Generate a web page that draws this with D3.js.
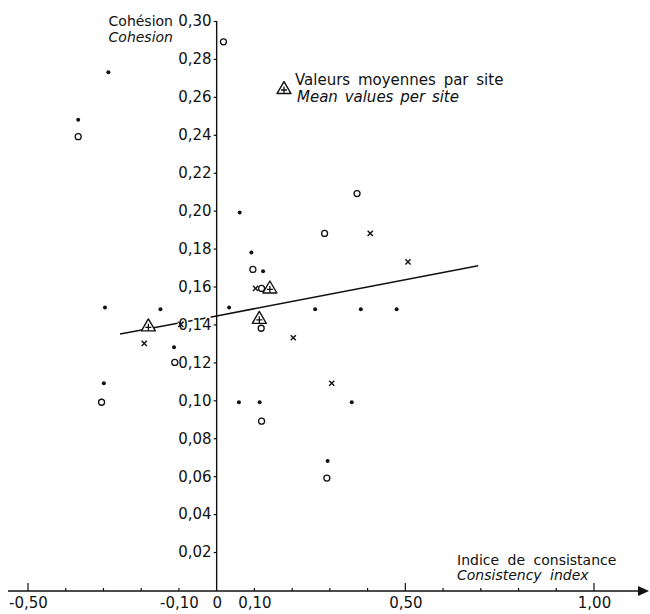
<!DOCTYPE html>
<html>
<head>
<meta charset="utf-8">
<script src="https://cdn.jsdelivr.net/npm/d3@7"></script>
<style>
  html, body { margin: 0; padding: 0; background: #fff; }
  svg { display: block; }
  text { font-family: "DejaVu Sans", sans-serif; fill: #111; }
</style>
</head>
<body>
<svg id="chart" width="650" height="614"></svg>
<script>
// Consistency index (x) vs cohesion (y), one symbol per group of observations
const solidPoints = [
  [-0.367, 0.248], [-0.287, 0.273], [-0.296, 0.149], [-0.299, 0.109],
  [-0.149, 0.148], [-0.113, 0.128], [0.033, 0.149], [0.061, 0.199],
  [0.092, 0.178], [0.123, 0.168], [0.059, 0.099], [0.114, 0.099],
  [0.261, 0.148], [0.294, 0.068], [0.358, 0.099], [0.382, 0.148],
  [0.477, 0.148]
];
const openPoints = [
  [-0.367, 0.239], [0.018, 0.289], [0.096, 0.169], [0.119, 0.159],
  [0.118, 0.138], [0.119, 0.089], [-0.111, 0.120], [-0.305, 0.099],
  [0.286, 0.188], [0.372, 0.209], [0.292, 0.059]
];
const crossPoints = [
  [0.103, 0.159], [-0.095, 0.140], [-0.192, 0.130], [0.203, 0.133],
  [0.305, 0.109], [0.407, 0.188], [0.507, 0.173]
];
// mean values per site
const meanPoints = [
  [-0.181, 0.139], [0.141, 0.159], [0.113, 0.143]
];
// fitted line
const trendLine = [[-0.256, 0.135], [0.0, 0.1445], [0.693, 0.171]];

const yTicks = [0.02, 0.04, 0.06, 0.08, 0.10, 0.12, 0.14, 0.16, 0.18, 0.20, 0.22, 0.24, 0.26, 0.28, 0.30];
const xMinorTicks = [-0.5, -0.4, -0.3, -0.2, -0.1, 0.1, 0.2, 0.3, 0.4, 0.5, 0.6, 0.7, 0.8, 0.9, 1.0];
const xMajorTicks = [-0.5, 0.5, 1.0];
const xLabelTicks = [-0.5, -0.1, 0, 0.1, 0.5, 1.0];

const svg = d3.select("#chart");
const ink = "#111";

const x = d3.scaleLinear().domain([-0.5, 1.0]).range([28, 594]);
const y = d3.scaleLinear().domain([0, 0.30]).range([590, 21]);
const axisY = 591;
const fmt = d => d.toFixed(2).replace(".", ",");

// x axis line with arrow
svg.append("line")
  .attr("x1", 8).attr("x2", 642).attr("y1", axisY).attr("y2", axisY)
  .attr("stroke", ink).attr("stroke-width", 1.3);
svg.append("path")
  .attr("d", `M638,${axisY - 5}L649,${axisY}L638,${axisY + 5}Z`)
  .attr("fill", ink);

// x ticks (point upward)
svg.append("g").selectAll("line").data(xMinorTicks).join("line")
  .attr("x1", d => x(d)).attr("x2", d => x(d))
  .attr("y1", axisY)
  .attr("y2", d => xMajorTicks.includes(d) ? axisY - 8 : axisY - 3)
  .attr("stroke", ink).attr("stroke-width", 1.2);

// x tick labels
const xAxis = d3.axisBottom(x).tickValues(xLabelTicks).tickSize(0).tickPadding(6)
  .tickFormat(d => d === 0 ? "0" : fmt(d));
const gx = svg.append("g").attr("transform", `translate(0,${axisY})`).call(xAxis);
gx.select(".domain").remove();
gx.selectAll("text").attr("font-size", 15).attr("font-family", "DejaVu Sans, sans-serif").attr("fill", ink);

// fitted line (drawn before axis labels so the labels sit over it)
const lineGen = d3.line().x(d => x(d[0])).y(d => y(d[1]));
svg.append("path").datum(trendLine)
  .attr("d", lineGen)
  .attr("fill", "none").attr("stroke", ink).attr("stroke-width", 1.6);

// y axis
svg.append("line")
  .attr("x1", x(0)).attr("x2", x(0)).attr("y1", y(0.30)).attr("y2", axisY)
  .attr("stroke", ink).attr("stroke-width", 1.4);
const yAxis = d3.axisLeft(y).tickValues(yTicks).tickSize(3).tickPadding(2).tickFormat(fmt);
const gy = svg.append("g").attr("transform", `translate(${x(0)},0)`).call(yAxis);
gy.select(".domain").remove();
gy.selectAll(".tick line").attr("stroke", ink).attr("stroke-width", 1.2);
gy.selectAll("text")
  .attr("font-size", 15).attr("font-family", "DejaVu Sans, sans-serif").attr("fill", ink)
  .attr("stroke", "#fff").attr("stroke-width", 3).attr("paint-order", "stroke");

// axis titles
svg.append("text").attr("x", 173).attr("y", 26).attr("text-anchor", "end")
  .attr("font-size", 14).text("Cohésion");
svg.append("text").attr("x", 173).attr("y", 42).attr("text-anchor", "end")
  .attr("font-size", 14).attr("font-style", "italic").text("Cohesion");
svg.append("text").attr("x", 457).attr("y", 565)
  .attr("font-size", 14).attr("word-spacing", 4).text("Indice de consistance");
svg.append("text").attr("x", 457).attr("y", 580)
  .attr("font-size", 14).attr("font-style", "italic").attr("word-spacing", 4).text("Consistency index");

// symbols
const marks = svg.append("g");
marks.selectAll("circle.solid").data(solidPoints).join("circle")
  .attr("class", "solid")
  .attr("cx", d => x(d[0])).attr("cy", d => y(d[1])).attr("r", 2)
  .attr("fill", ink);
marks.selectAll("circle.open").data(openPoints).join("circle")
  .attr("class", "open")
  .attr("cx", d => x(d[0])).attr("cy", d => y(d[1])).attr("r", 3)
  .attr("fill", "#fff").attr("stroke", ink).attr("stroke-width", 1.3);
marks.selectAll("path.cross").data(crossPoints).join("path")
  .attr("class", "cross")
  .attr("d", d => {
    const cx = x(d[0]), cy = y(d[1]), s = 2.6;
    return `M${cx - s},${cy - s}L${cx + s},${cy + s}M${cx + s},${cy - s}L${cx - s},${cy + s}`;
  })
  .attr("stroke", ink).attr("stroke-width", 1.4).attr("fill", "none");

function meanSymbol(g, cx, cy) {
  const w = 7, h = 12;
  g.append("path")
    .attr("d", `M${cx},${cy - h * 0.62}L${cx + w},${cy + h * 0.38}L${cx - w},${cy + h * 0.38}Z`)
    .attr("fill", "#fff").attr("stroke", ink).attr("stroke-width", 1.4).attr("stroke-linejoin", "round");
  g.append("path")
    .attr("d", `M${cx - 3},${cy + 1}L${cx + 3},${cy + 1}M${cx},${cy - 2.5}L${cx},${cy + 4.5}`)
    .attr("stroke", ink).attr("stroke-width", 1.3);
}
meanPoints.forEach(d => meanSymbol(marks, x(d[0]), y(d[1])));

// legend
meanSymbol(svg, 284, 89);
svg.append("text").attr("x", 295).attr("y", 85)
  .attr("font-size", 15).attr("word-spacing", 3).text("Valeurs moyennes par site");
svg.append("text").attr("x", 297).attr("y", 102)
  .attr("font-size", 15).attr("font-style", "italic").attr("word-spacing", 2).text("Mean values per site");
</script>
</body>
</html>
